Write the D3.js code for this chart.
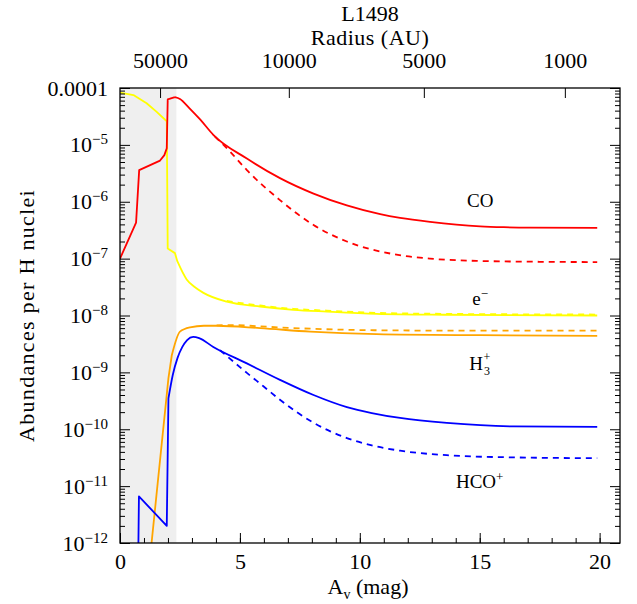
<!DOCTYPE html>
<html>
<head>
<meta charset="utf-8">
<script src="https://cdn.jsdelivr.net/npm/d3@7"></script>
<style>
  body { margin: 0; background: #fff; }
  text { font-family: "Liberation Serif", serif; fill: #000; }
</style>
</head>
<body>
<div id="chart"></div>
<script>
// values (A_v in mag, abundance per H nucleus)
const coAv    = [0, 0.67, 0.8, 1.67, 1.85, 1.95, 1.99, 2.29, 2.5, 2.9, 3.34, 3.89, 5.29, 6.67, 8.07, 9.46, 10.85, 11.68, 12.93, 15.02, 16.0, 17.1, 19.9];
const coVal   = [1.0e-7, 4.3e-7, 3.6e-6, 5.3e-6, 6.6e-6, 8.7e-6, 6.3e-5, 6.9e-5, 6.4e-5, 4.4e-5, 2.8e-5, 1.5e-5, 5.75e-6, 2.6e-6, 1.39e-6, 8.6e-7, 6.04e-7, 5.19e-7, 4.42e-7, 3.7e-7, 3.57e-7, 3.5e-7, 3.46e-7];
const coDashAv  = [3.96, 4.59, 5.29, 6.67, 8.07, 9.46, 11.4, 12.93, 15.0, 17.5, 19.9];
const coDashVal = [1.4e-5, 7.6e-6, 3.6e-6, 1.07e-6, 3.9e-7, 2.0e-7, 1.2e-7, 1.0e-7, 9.1e-8, 8.8e-8, 8.7e-8];

const elAv    = [0, 0.56, 1.11, 1.53, 1.95, 1.99, 2.29, 2.39, 2.78, 3.1, 3.48, 4.45, 5.84, 7.23, 8.62, 10.7, 13.5, 19.9];
const elVal   = [8.3e-5, 7.5e-5, 5.4e-5, 3.8e-5, 2.6e-5, 1.5e-7, 1.25e-7, 9e-8, 4.3e-8, 3.2e-8, 2.5e-8, 1.75e-8, 1.44e-8, 1.26e-8, 1.17e-8, 1.07e-8, 1.03e-8, 1.0e-8];
const elDashAv  = [4.45, 5.84, 7.23, 8.62, 10.7, 13.5, 19.9];
const elDashVal = [1.8e-8, 1.5e-8, 1.31e-8, 1.22e-8, 1.11e-8, 1.07e-8, 1.04e-8];

const h3Av    = [1.0, 2.02, 2.16, 2.5, 2.92, 3.5, 4.03, 5.84, 7.93, 10.7, 15.0, 19.9];
const h3Val   = [5e-14, 7.9e-10, 2.0e-9, 5.2e-9, 6.2e-9, 6.6e-9, 6.6e-9, 6.0e-9, 5.2e-9, 4.7e-9, 4.5e-9, 4.4e-9];
const h3DashAv  = [4.03, 4.38, 7.23, 10.7, 15.0, 19.9];
const h3DashVal = [6.7e-9, 6.8e-9, 6.0e-9, 5.5e-9, 5.4e-9, 5.4e-9];

const hcoAv   = [0.74, 0.79, 1.95, 2.02, 2.2, 2.4, 2.6, 2.8, 3.05, 3.3, 3.89, 5.29, 6.67, 8.07, 9.46, 10.5, 11.68, 13.63, 16.4, 19.9];
const hcoVal  = [1e-13, 6.6e-12, 2.0e-12, 3.5e-10, 9e-10, 1.8e-9, 2.8e-9, 3.7e-9, 4.2e-9, 4.0e-9, 2.8e-9, 1.44e-9, 7.4e-10, 4.0e-10, 2.45e-10, 1.93e-10, 1.58e-10, 1.29e-10, 1.12e-10, 1.1e-10];
const hcoDashAv  = [4.17, 5.29, 5.98, 6.67, 7.37, 8.07, 8.77, 9.46, 10.5, 11.68, 13.63, 16.4, 19.9];
const hcoDashVal = [2.45e-9, 9.8e-10, 5.7e-10, 3.3e-10, 2.0e-10, 1.3e-10, 9.2e-11, 7e-11, 5.2e-11, 4.2e-11, 3.5e-11, 3.2e-11, 3.1e-11];

// shaded outer region (A_v 0 .. shadeEnd)
const shadeEnd = 2.35;

// top axis: radius in AU and where it sits on the A_v axis
const radiusTicks = [50000, 10000, 5000, 1000];
const radiusAv    = [1.67, 7.04, 12.67, 18.55];

const avTicks  = [0, 5, 10, 15, 20];
const logTicks = [-12, -11, -10, -9, -8, -7, -6, -5, -4];

// species labels (position in data units)
const labelAv  = [15.02, 15.02, 14.85, 15.0];
const labelVal = [1.04e-6, 2.0e-8, 1.45e-9, 1.2e-11];

const W = 637, H = 604;
const m = {top: 88, right: 17, bottom: 61, left: 120};
const w = W - m.left - m.right;
const h = H - m.top - m.bottom;
const fs = 22;

const svg = d3.select('#chart')
    .append('svg')
    .attr('width', W)
    .attr('height', H);

const g = svg.append('g')
    .attr('transform', `translate(${m.left},${m.top})`);

const x = d3.scaleLinear().domain([0, 20.85]).range([0, w]);
const y = d3.scaleLog().domain([1e-12, 1e-4]).range([h, 0]);

g.append('clipPath').attr('id', 'clip')
    .append('rect').attr('width', w).attr('height', h);

g.append('rect')
    .attr('x', x(0))
    .attr('y', 0)
    .attr('width', x(shadeEnd) - x(0))
    .attr('height', h)
    .attr('fill', '#efefef');

// linearTo: the coarse outer part is drawn straight, the rest smooth
const series = [
    {av: elAv, val: elVal, color: '#ffff00', dash: null, linearTo: 2.39},
    {av: elDashAv, val: elDashVal, color: '#ffff00', dash: '6,5', linearTo: 0},
    {av: coAv, val: coVal, color: '#ff0000', dash: null, linearTo: 2.29},
    {av: coDashAv, val: coDashVal, color: '#ff0000', dash: '6,5', linearTo: 0},
    {av: h3Av, val: h3Val, color: '#ffa500', dash: null, linearTo: 2.16},
    {av: h3DashAv, val: h3DashVal, color: '#ffa500', dash: '6,5', linearTo: 0},
    {av: hcoAv, val: hcoVal, color: '#0000ff', dash: null, linearTo: 2.02},
    {av: hcoDashAv, val: hcoDashVal, color: '#0000ff', dash: '6,5', linearTo: 0}
];

const straight = d3.line()
    .x(d => x(d[0]))
    .y(d => y(d[1]));
const smooth = d3.line()
    .x(d => x(d[0]))
    .y(d => y(d[1]))
    .curve(d3.curveMonotoneX);

const lines = g.append('g').attr('clip-path', 'url(#clip)');
series.forEach(s => {
    const pts = d3.zip(s.av, s.val);
    const head = pts.filter(p => p[0] <= s.linearTo);
    const tail = pts.filter(p => p[0] >= s.linearTo);
    const d = (head.length > 1 ? straight(head) : '') + smooth(tail);
    lines.append('path')
        .attr('d', d)
        .attr('fill', 'none')
        .attr('stroke', s.color)
        .attr('stroke-width', 1.8)
        .attr('stroke-linejoin', 'round')
        .attr('stroke-dasharray', s.dash);
});

// ticks, all pointing inward
const minorLog = [];
logTicks.slice(0, -1).forEach(e => {
    for (let k = 2; k <= 9; k++) minorLog.push(k * Math.pow(10, e));
});
const majorLog = logTicks.map(e => Math.pow(10, e));
const minorAv = d3.range(0, 21);

function tickStyle(sel) {
    sel.select('.domain').remove();
    sel.selectAll('line').attr('stroke', '#000').attr('stroke-width', 1);
    sel.selectAll('text').style('font-size', fs + 'px').style('font-family', '"Liberation Serif", serif');
}

g.append('g')
    .call(d3.axisLeft(y).tickValues(minorLog).tickSizeInner(-5).tickSizeOuter(0).tickFormat(''))
    .call(tickStyle);
const yAxis = g.append('g')
    .call(d3.axisLeft(y).tickValues(majorLog).tickSizeInner(-10).tickSizeOuter(0).tickPadding(12).tickFormat(''))
    .call(tickStyle);
yAxis.selectAll('.tick text').each(function(d) {
    const t = d3.select(this);
    const e = Math.round(Math.log10(d));
    if (e === -4) {
        t.text('0.0001');
    } else {
        t.append('tspan').text('10');
        t.append('tspan').attr('dy', '-8').style('font-size', '15px').text('\u2212' + (-e));
    }
});

g.append('g').attr('transform', `translate(${w},0)`)
    .call(d3.axisRight(y).tickValues(minorLog).tickSizeInner(-5).tickSizeOuter(0).tickFormat(''))
    .call(tickStyle);
g.append('g').attr('transform', `translate(${w},0)`)
    .call(d3.axisRight(y).tickValues(majorLog).tickSizeInner(-10).tickSizeOuter(0).tickFormat(''))
    .call(tickStyle);

g.append('g').attr('transform', `translate(0,${h})`)
    .call(d3.axisBottom(x).tickValues(minorAv).tickSizeInner(-5).tickSizeOuter(0).tickFormat(''))
    .call(tickStyle);
g.append('g').attr('transform', `translate(0,${h})`)
    .call(d3.axisBottom(x).tickValues(avTicks).tickSizeInner(-10).tickSizeOuter(0).tickPadding(10).tickFormat(d3.format('d')))
    .call(tickStyle);

const r = d3.scaleLinear().domain(radiusTicks).range(radiusAv.map(x));
g.append('g')
    .call(d3.axisTop(r).tickValues(radiusTicks).tickSizeInner(-10).tickSizeOuter(0).tickPadding(20).tickFormat(d3.format('d')))
    .call(tickStyle);

g.append('rect')
    .attr('width', w)
    .attr('height', h)
    .attr('fill', 'none')
    .attr('stroke', '#000')
    .attr('stroke-width', 1.3);

// species labels
const lab = g.append('g').style('font-size', '19px');
const px = i => x(labelAv[i]);
const py = i => y(labelVal[i]);

lab.append('text').attr('x', px(0)).attr('y', py(0)).attr('dy', '0.35em')
    .attr('text-anchor', 'middle').text('CO');

const el = lab.append('text').attr('x', px(1)).attr('y', py(1)).attr('dy', '0.35em')
    .attr('text-anchor', 'middle');
el.append('tspan').text('e');
el.append('tspan').attr('dy', '-7').style('font-size', '13px').text('\u2212');

lab.append('text').attr('x', px(2)).attr('y', py(2)).attr('dy', '0.35em')
    .attr('text-anchor', 'middle').text('H');
lab.append('text').attr('x', px(2) + 8).attr('y', py(2) + 12)
    .style('font-size', '12px').text('3');
lab.append('text').attr('x', px(2) + 7.5).attr('y', py(2) - 2)
    .style('font-size', '12px').text('+');

const hco = lab.append('text').attr('x', px(3)).attr('y', py(3)).attr('dy', '0.35em')
    .attr('text-anchor', 'middle');
hco.append('tspan').text('HCO');
hco.append('tspan').attr('dy', '-7').style('font-size', '13px').text('+');

// titles
svg.append('text')
    .attr('x', m.left + w / 2).attr('y', 21)
    .attr('text-anchor', 'middle')
    .style('font-size', fs + 'px')
    .text('L1498');
svg.append('text')
    .attr('x', m.left + w / 2).attr('y', 45)
    .attr('text-anchor', 'middle')
    .style('font-size', fs + 'px')
    .style('letter-spacing', '0.5px')
    .text('Radius (AU)');

const xl = svg.append('text')
    .attr('x', m.left + w / 2 - 2).attr('y', 594)
    .attr('text-anchor', 'middle')
    .style('font-size', fs + 'px');
xl.append('tspan').text('A');
xl.append('tspan').attr('dy', '5').style('font-size', '14px').text('v');
xl.append('tspan').attr('dy', '-5').text(' (mag)');

svg.append('text')
    .attr('transform', `translate(34,${m.top + h / 2}) rotate(-90)`)
    .attr('text-anchor', 'middle')
    .style('font-size', fs + 'px')
    .style('letter-spacing', '1.3px')
    .text('Abundances per H nuclei');
</script>
</body>
</html>
